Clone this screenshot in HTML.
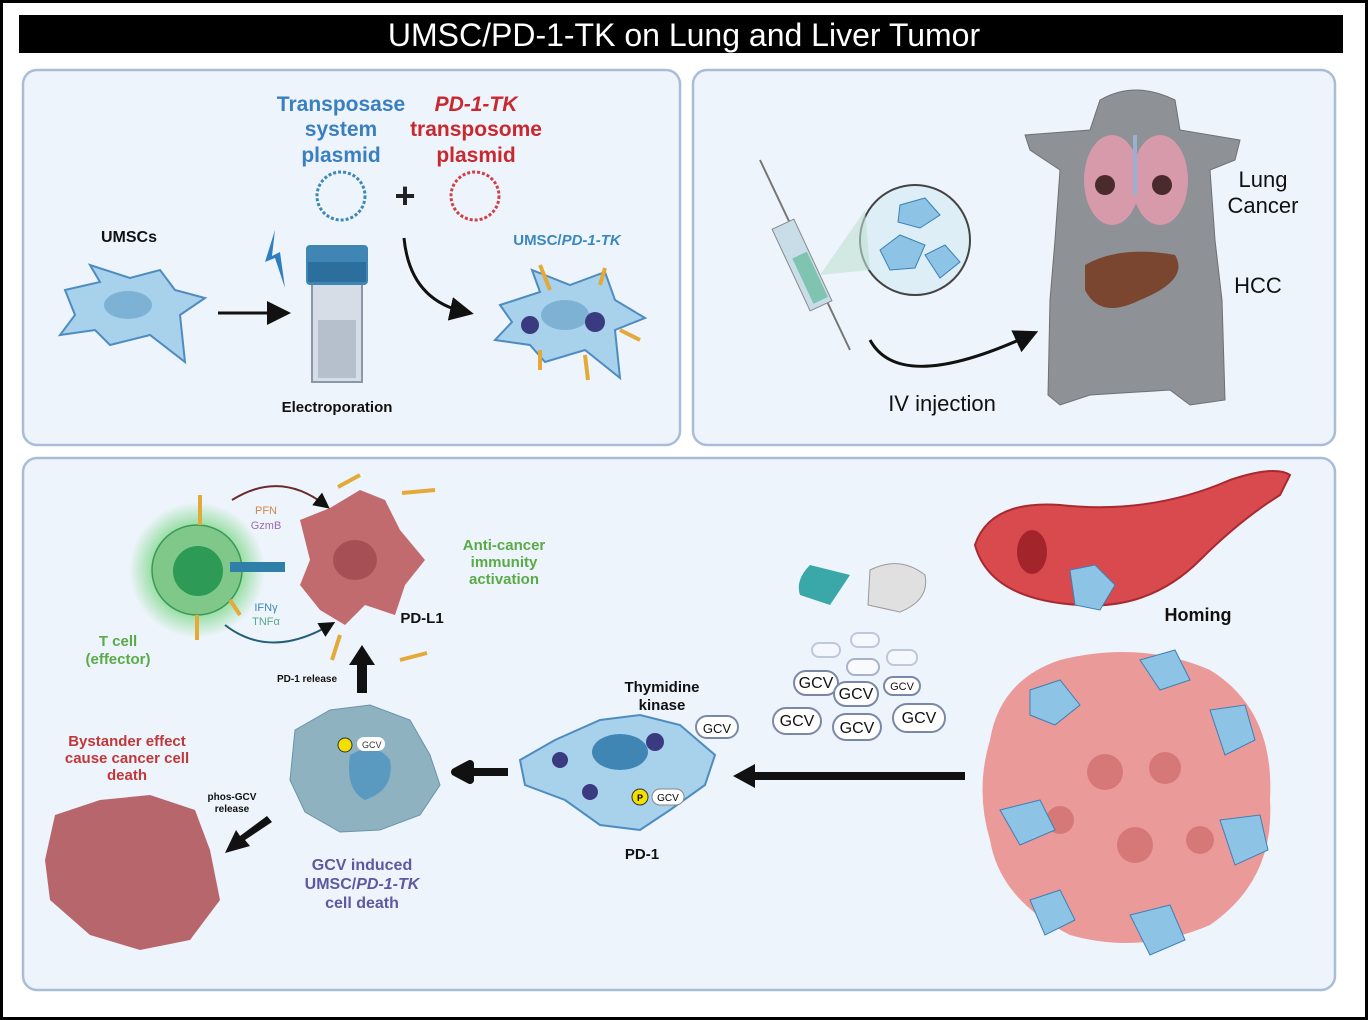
<!DOCTYPE html>
<html><head><meta charset="utf-8"><style>
html,body{margin:0;padding:0;background:#fff}
svg{display:block}
text{font-family:"Liberation Sans",sans-serif}
</style></head><body>
<svg width="1368" height="1020" viewBox="0 0 1368 1020" xmlns="http://www.w3.org/2000/svg">
<defs>
<radialGradient id="glow"><stop offset="0.6" stop-color="#5fd06a" stop-opacity="0.7"/><stop offset="1" stop-color="#5fd06a" stop-opacity="0"/></radialGradient>
<marker id="ah" markerWidth="8" markerHeight="8" refX="5" refY="4" orient="auto"><path d="M0,0 L8,4 L0,8 z" fill="#111"/></marker>
</defs>
<rect x="1.5" y="1.5" width="1365" height="1017" fill="#fff" stroke="#000" stroke-width="3"/>
<rect x="19" y="15" width="1324" height="38" fill="#000"/>
<text x="684" y="46" text-anchor="middle" fill="#fff" font-size="32" font-family="Liberation Sans,sans-serif">UMSC/PD-1-TK on Lung and Liver Tumor</text>
<!-- panels -->
<rect x="23" y="70" width="657" height="375" rx="14" fill="#eef4fb" stroke="#a9bdd8" stroke-width="2.5"/>
<rect x="693" y="70" width="642" height="375" rx="14" fill="#eef4fb" stroke="#a9bdd8" stroke-width="2.5"/>
<rect x="23" y="458" width="1312" height="532" rx="14" fill="#eef4fb" stroke="#a9bdd8" stroke-width="2.5"/>

<!-- Panel 1 -->
<g font-weight="bold" font-size="21" text-anchor="middle">
<text x="341" y="111" fill="#3a7fc0">Transposase</text>
<text x="341" y="136" fill="#3a7fc0">system</text>
<text x="341" y="162" fill="#3a7fc0">plasmid</text>
<text x="476" y="111" fill="#c8282e" font-style="italic">PD-1-TK</text>
<text x="476" y="136" fill="#c8282e">transposome</text>
<text x="476" y="162" fill="#c8282e">plasmid</text>
</g>
<circle cx="341" cy="196" r="24" fill="none" stroke="#3a88b8" stroke-width="3" stroke-dasharray="3 2"/>
<circle cx="475" cy="196" r="24" fill="none" stroke="#d0404a" stroke-width="3" stroke-dasharray="3 2"/>
<text x="405" y="208" text-anchor="middle" font-size="36" font-weight="bold" fill="#222">+</text>
<text x="129" y="242" text-anchor="middle" font-size="16" font-weight="bold" fill="#111">UMSCs</text>
<path d="M65,290 L100,282 L90,265 L130,278 L160,270 L175,290 L205,298 L180,315 L185,362 L150,335 L110,345 L95,330 L60,335 L75,315 Z" fill="#a8d1ec" stroke="#4e8cc0" stroke-width="2"/>
<ellipse cx="128" cy="305" rx="24" ry="14" fill="#7db2d4"/>
<line x1="218" y1="313" x2="282" y2="313" stroke="#111" stroke-width="3" marker-end="url(#ah)"/>
<path d="M275,230 L265,262 L275,258 L285,288 L280,252 L272,256 Z" fill="#2f7fc0"/>
<rect x="312" y="276" width="50" height="106" fill="#d6dde6" stroke="#8a97a6" stroke-width="2"/>
<rect x="318" y="320" width="38" height="58" fill="#b5c0cc"/>
<rect x="306" y="245" width="62" height="40" rx="4" fill="#3f86b4"/>
<rect x="308" y="262" width="58" height="20" fill="#2c6f9c"/>
<text x="337" y="412" text-anchor="middle" font-size="15" font-weight="bold" fill="#111">Electroporation</text>
<path d="M404,238 Q410,300 465,312" fill="none" stroke="#111" stroke-width="3" marker-end="url(#ah)"/>
<text x="567" y="245" text-anchor="middle" font-size="15" font-weight="bold" fill="#3a88c0">UMSC/<tspan font-style="italic">PD-1-TK</tspan></text>
<path d="M500,305 L540,292 L532,270 L570,285 L605,272 L615,300 L645,318 L615,330 L620,378 L585,350 L545,362 L530,345 L495,340 L512,322 Z" fill="#a8d1ec" stroke="#4e8cc0" stroke-width="2"/>
<ellipse cx="565" cy="315" rx="24" ry="15" fill="#7db2d4"/>
<circle cx="530" cy="325" r="9" fill="#3a3a80"/><circle cx="595" cy="322" r="10" fill="#3a3a80"/>
<g stroke="#e3aa3a" stroke-width="4"><line x1="550" y1="290" x2="540" y2="265"/><line x1="600" y1="285" x2="605" y2="268"/><line x1="540" y1="350" x2="540" y2="370"/><line x1="585" y1="355" x2="588" y2="380"/><line x1="620" y1="330" x2="640" y2="340"/></g>

<!-- Panel 2 -->
<line x1="760" y1="160" x2="850" y2="350" stroke="#777" stroke-width="2"/>
<rect x="790" y="220" width="24" height="90" fill="#c8dde8" stroke="#888" transform="rotate(-25 802 265)"/>
<rect x="796" y="255" width="16" height="50" fill="#7fc4b0" transform="rotate(-25 802 265)"/>
<circle cx="915" cy="240" r="55" fill="#ddeef6" stroke="#444" stroke-width="2"/>
<path d="M820,275 L865,210 L870,270 Z" fill="#bfe0d4" opacity="0.6"/>
<path d="M880,250 L900,235 L925,245 L915,268 L890,270 Z" fill="#8dc4e6" stroke="#3d7fb5"/>
<path d="M900,205 L925,198 L940,215 L920,228 L898,222 Z" fill="#8dc4e6" stroke="#3d7fb5"/>
<path d="M925,255 L945,245 L960,262 L940,278 Z" fill="#8dc4e6" stroke="#3d7fb5"/>
<path d="M870,340 Q900,395 1030,335" fill="none" stroke="#111" stroke-width="3" marker-end="url(#ah)"/>
<text x="942" y="411" text-anchor="middle" font-size="22" fill="#111">IV injection</text>
<!-- mouse -->
<path d="M1100,100 Q1135,80 1175,100 L1180,130 L1240,140 L1235,160 L1210,170 L1215,240 L1222,300 L1225,400 L1190,405 L1170,390 L1090,395 L1060,405 L1048,395 L1050,300 L1055,240 L1060,170 L1030,150 L1025,135 L1090,130 Z" fill="#8e9296" stroke="#6d7175"/>
<ellipse cx="1112" cy="180" rx="28" ry="45" fill="#d69aaa"/>
<ellipse cx="1160" cy="180" rx="28" ry="45" fill="#d69aaa"/>
<line x1="1135" y1="135" x2="1135" y2="195" stroke="#9ab0d0" stroke-width="4"/>
<circle cx="1105" cy="185" r="10" fill="#4a2a2a"/><circle cx="1162" cy="185" r="10" fill="#4a2a2a"/>
<path d="M1085,265 Q1120,245 1175,255 Q1190,280 1140,300 Q1100,320 1085,290 Z" fill="#7a4630"/>
<text x="1263" y="187" text-anchor="middle" font-size="22" fill="#111">Lung</text>
<text x="1263" y="213" text-anchor="middle" font-size="22" fill="#111">Cancer</text>
<text x="1258" y="293" text-anchor="middle" font-size="22" fill="#111">HCC</text>

<!-- Panel 3 -->
<circle cx="197" cy="570" r="68" fill="url(#glow)"/>
<circle cx="197" cy="570" r="45" fill="#7fc88a" stroke="#3a9a55" stroke-width="1.5"/>
<circle cx="198" cy="571" r="25" fill="#2d9a55"/>
<g stroke="#e3aa3a" stroke-width="4"><line x1="200" y1="495" x2="200" y2="525"/><line x1="197" y1="615" x2="197" y2="640"/><line x1="230" y1="600" x2="240" y2="615"/><line x1="338" y1="487" x2="360" y2="475"/><line x1="402" y1="493" x2="435" y2="490"/><line x1="332" y1="660" x2="340" y2="635"/><line x1="400" y1="660" x2="427" y2="653"/></g>
<rect x="230" y="562" width="55" height="10" fill="#2f7fa8"/>
<path d="M300,520 L330,508 L360,490 L385,500 L400,530 L425,560 L405,585 L395,615 L365,605 L345,625 L320,610 L300,585 L310,560 Z" fill="#c26b6e"/>
<ellipse cx="355" cy="560" rx="22" ry="20" fill="#a65055"/>
<path d="M232,500 Q280,470 325,505" fill="none" stroke="#6b2b2b" stroke-width="2" marker-end="url(#ah)"/>
<path d="M225,625 Q270,660 330,625" fill="none" stroke="#245f7a" stroke-width="2" marker-end="url(#ah)"/>
<text x="266" y="514" text-anchor="middle" font-size="11" fill="#d0884a">PFN</text>
<text x="266" y="529" text-anchor="middle" font-size="11" fill="#9a6ab0">GzmB</text>
<text x="266" y="611" text-anchor="middle" font-size="11" fill="#3a88c0">IFNγ</text>
<text x="266" y="625" text-anchor="middle" font-size="11" fill="#5aa88a">TNFα</text>
<text x="422" y="623" text-anchor="middle" font-size="15" font-weight="bold" fill="#111">PD-L1</text>
<text x="118" y="646" text-anchor="middle" font-size="15" font-weight="bold" fill="#5aaa48">T cell</text>
<text x="118" y="664" text-anchor="middle" font-size="15" font-weight="bold" fill="#5aaa48">(effector)</text>
<g font-size="15" font-weight="bold" fill="#5aaa48" text-anchor="middle"><text x="504" y="550">Anti-cancer</text><text x="504" y="567">immunity</text><text x="504" y="584">activation</text></g>
<text x="307" y="682" text-anchor="middle" font-size="10" font-weight="bold" fill="#111">PD-1 release</text>
<path d="M357,693 L357,665 L349,665 L362,645 L375,665 L367,665 L367,693 Z" fill="#111"/>
<!-- dying UMSC -->
<path d="M295,730 L330,710 L370,705 L410,720 L430,755 L440,785 L420,815 L380,830 L340,832 L305,812 L290,780 Z" fill="#8fb2c0" stroke="#6a94a8"/>
<path d="M350,755 Q375,740 390,760 Q395,790 365,800 Q345,790 350,755 Z" fill="#5a9ac0"/>
<g font-size="9" fill="#333"><circle cx="345" cy="745" r="7" fill="#f4e000" stroke="#333"/><rect x="357" y="737" width="28" height="14" rx="7" fill="#fff"/><text x="362" y="748">GCV</text></g>
<text x="362" y="870" text-anchor="middle" font-size="16" font-weight="bold" fill="#5a5aa0">GCV induced</text>
<text x="362" y="889" text-anchor="middle" font-size="16" font-weight="bold" fill="#5a5aa0">UMSC/<tspan font-style="italic">PD-1-TK</tspan></text>
<text x="362" y="908" text-anchor="middle" font-size="16" font-weight="bold" fill="#5a5aa0">cell death</text>
<g font-size="15" font-weight="bold" fill="#c0383a" text-anchor="middle"><text x="127" y="746">Bystander effect</text><text x="127" y="763">cause cancer cell</text><text x="127" y="780">death</text></g>
<text x="232" y="800" text-anchor="middle" font-size="10" font-weight="bold" fill="#111">phos-GCV</text>
<text x="232" y="812" text-anchor="middle" font-size="10" font-weight="bold" fill="#111">release</text>
<path d="M272,822 L245,840 L250,846 L225,853 L236,830 L240,836 L267,816 Z" fill="#111"/>
<path d="M55,815 L100,800 L150,795 L195,810 L210,850 L220,900 L190,940 L140,950 L90,935 L50,900 L45,860 Z" fill="#b0585c" opacity="0.9"/>
<path d="M508,772 L470,772 L470,764 L455,772 L470,780 L470,772" fill="#111" stroke="#111" stroke-width="8" stroke-linejoin="round"/>
<!-- thymidine cell -->
<path d="M520,760 L555,740 L600,720 L640,715 L680,725 L715,755 L705,785 L670,810 L640,830 L600,825 L565,800 L525,785 Z" fill="#a8d1ec" stroke="#4e8cc0" stroke-width="2"/>
<ellipse cx="620" cy="752" rx="28" ry="18" fill="#3f86b4"/>
<circle cx="560" cy="760" r="8" fill="#3a3a80"/><circle cx="655" cy="742" r="9" fill="#3a3a80"/><circle cx="590" cy="792" r="8" fill="#3a3a80"/>
<text x="662" y="692" text-anchor="middle" font-size="15" font-weight="bold" fill="#111">Thymidine</text>
<text x="662" y="710" text-anchor="middle" font-size="15" font-weight="bold" fill="#111">kinase</text>
<text x="642" y="859" text-anchor="middle" font-size="15" font-weight="bold" fill="#111">PD-1</text>
<circle cx="640" cy="797" r="8" fill="#f4e000" stroke="#333"/><text x="640" y="801" font-size="9" text-anchor="middle" font-weight="bold">P</text>
<rect x="652" y="789" width="32" height="16" rx="8" fill="#fff" stroke="#888"/><text x="668" y="801" font-size="10" text-anchor="middle">GCV</text>
<path d="M965,776 L750,776" stroke="#111" stroke-width="8"/><path d="M755,764 L733,776 L755,788 Z" fill="#111"/>
<!-- GCV pills -->
<g fill="#fff" stroke="#7a88a8" stroke-width="2" font-size="16" text-anchor="middle">
<rect x="696" y="716" width="42" height="22" rx="11"/><text x="717" y="733" stroke="none" fill="#111" font-size="13">GCV</text>
<rect x="794" y="671" width="44" height="24" rx="12"/><text x="816" y="688" stroke="none" fill="#111">GCV</text>
<rect x="834" y="682" width="44" height="24" rx="12"/><text x="856" y="699" stroke="none" fill="#111">GCV</text>
<rect x="773" y="708" width="48" height="26" rx="13"/><text x="797" y="726" stroke="none" fill="#111">GCV</text>
<rect x="833" y="714" width="48" height="26" rx="13"/><text x="857" y="733" stroke="none" fill="#111">GCV</text>
<rect x="893" y="704" width="52" height="28" rx="14"/><text x="919" y="723" stroke="none" fill="#111">GCV</text>
<rect x="884" y="677" width="36" height="18" rx="9"/><text x="902" y="690" stroke="none" fill="#111" font-size="11">GCV</text>
<rect x="847" y="659" width="32" height="16" rx="8" opacity="0.6"/><rect x="812" y="643" width="28" height="14" rx="7" opacity="0.4"/><rect x="851" y="633" width="28" height="14" rx="7" opacity="0.4"/><rect x="887" y="650" width="30" height="15" rx="7" opacity="0.4"/>
</g>
<path d="M810,565 Q795,580 800,595 L830,605 L850,575 Z" fill="#3aa8a8"/>
<path d="M870,570 Q900,555 925,575 Q930,600 900,612 L868,605 Z" fill="#e0e0e0" stroke="#999"/>
<!-- vessel -->
<path d="M975,545 Q990,500 1060,505 Q1150,515 1230,480 Q1275,465 1290,475 L1280,495 Q1240,520 1200,560 Q1150,610 1080,605 Q990,600 975,545 Z" fill="#d94a4f" stroke="#a82a30" stroke-width="2"/>
<ellipse cx="1032" cy="552" rx="15" ry="22" fill="#a3252b"/>
<path d="M1070,570 L1095,565 L1115,585 L1100,610 L1075,605 Z" fill="#8dc4e6" stroke="#3d7fb5"/>
<text x="1198" y="621" text-anchor="middle" font-size="18" font-weight="bold" fill="#111">Homing</text>
<!-- tumor -->
<path d="M990,740 Q1000,680 1060,660 Q1140,640 1210,670 Q1275,710 1270,800 Q1275,880 1210,925 Q1140,955 1070,935 Q1000,900 990,840 Q975,790 990,740 Z" fill="#eb9a9a"/>
<g fill="#d67878"><circle cx="1105" cy="772" r="18"/><circle cx="1165" cy="768" r="16"/><circle cx="1135" cy="845" r="18"/><circle cx="1060" cy="820" r="14"/><circle cx="1200" cy="840" r="14"/></g>
<g fill="#8dc4e6" stroke="#3d7fb5"><path d="M1030,690 L1060,680 L1080,705 L1055,725 L1030,715 Z"/><path d="M1210,710 L1245,705 L1255,740 L1225,755 Z"/><path d="M1000,810 L1040,800 L1055,830 L1020,845 Z"/><path d="M1220,820 L1260,815 L1268,850 L1235,865 Z"/><path d="M1130,915 L1170,905 L1185,940 L1150,955 Z"/><path d="M1030,900 L1060,890 L1075,920 L1045,935 Z"/><path d="M1140,660 L1175,650 L1190,680 L1160,690 Z"/></g>
</svg>
</body></html>
